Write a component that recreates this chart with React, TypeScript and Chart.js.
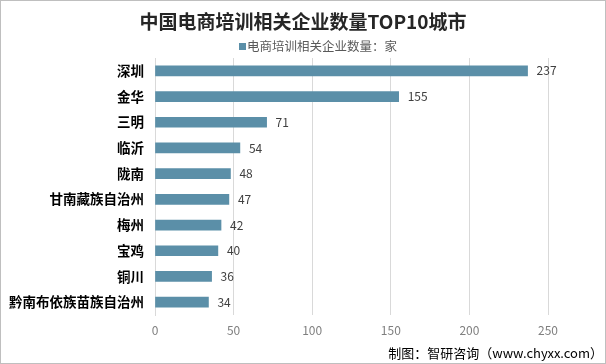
import React, { useEffect, useRef } from "react";
import { Chart, registerables } from "chart.js";

Chart.register(...registerables);

const cities = ["深圳", "金华", "三明", "临沂", "陇南", "甘南藏族自治州", "梅州", "宝鸡", "铜川", "黔南布依族苗族自治州"];
const counts = [237, 155, 71, 54, 48, 47, 42, 40, 36, 34];
const seriesName = "电商培训相关企业数量：家";
const titleText = "中国电商培训相关企业数量TOP10城市";
const footerText = "制图：智研咨询（www.chyxx.com）";
const xTicks = [0, 50, 100, 150, 200, 250];

const FONT = "'Noto Sans CJK SC', 'Noto Sans', sans-serif";
const BAR_COLOR = "#5b8fa8";

const decorations = {
  id: "decorations",
  afterDatasetsDraw(chart: any) {
    const ctx = chart.ctx;
    const meta = chart.getDatasetMeta(0);
    ctx.save();
    // value labels
    ctx.font = `12px ${FONT}`;
    ctx.fillStyle = "#404040";
    ctx.textAlign = "left";
    ctx.textBaseline = "middle";
    meta.data.forEach((bar: any, i: number) => {
      ctx.fillText(String(counts[i]), bar.x + 9, bar.y);
    });
    // title
    ctx.font = `bold 19px ${FONT}`;
    ctx.fillStyle = "#262626";
    ctx.textAlign = "center";
    ctx.fillText(titleText, 302, 21);
    // legend
    ctx.font = `12.5px ${FONT}`;
    ctx.fillStyle = BAR_COLOR;
    ctx.fillRect(238, 42, 7, 7);
    ctx.fillStyle = "#595959";
    ctx.textAlign = "left";
    ctx.fillText(seriesName, 246, 45.5);
    // footer
    ctx.font = `13px ${FONT}`;
    ctx.fillStyle = "#000000";
    ctx.textAlign = "right";
    ctx.fillText(footerText, 602, 352);
    ctx.restore();
  },
};

export default function App() {
  const ref = useRef<HTMLCanvasElement>(null);
  useEffect(() => {
    document.body.style.margin = "0";
    const chart = new Chart(ref.current!, {
      type: "bar",
      data: {
        labels: cities,
        datasets: [
          {
            label: seriesName,
            data: counts,
            backgroundColor: BAR_COLOR,
            borderWidth: 0,
            barThickness: 10,
          },
        ],
      },
      options: {
        indexAxis: "y",
        responsive: false,
        animation: false,
        layout: { padding: { left: 0, right: 57, top: 57, bottom: 18 } },
        plugins: {
          title: { display: false },
          legend: { display: false },
          tooltip: { enabled: false },
        },
        scales: {
          x: {
            min: 0,
            max: 250,
            afterBuildTicks(axis: any) {
              axis.ticks = xTicks.map((v) => ({ value: v }));
            },
            afterFit(axis: any) {
              axis.height = 30;
            },
            grid: { color: "#d9d9d9", drawTicks: false },
            border: { display: false },
            ticks: { color: "#7f7f7f", font: { family: FONT, size: 12 }, padding: 8 },
          },
          y: {
            afterFit(axis: any) {
              axis.width = 154;
            },
            grid: { display: false, drawTicks: false },
            border: { display: true, color: "#d9d9d9" },
            ticks: { color: "#000000", font: { family: FONT, size: 13.5, weight: "bold" }, padding: 11 },
          },
        },
      },
      plugins: [decorations],
    });
    return () => chart.destroy();
  }, []);
  return (
    <div style={{ position: "fixed", left: 0, top: 0, width: 606, height: 364, boxSizing: "border-box", border: "1px solid #bfbfbf", background: "#fff" }}>
      <canvas ref={ref} width={604} height={362} style={{ display: "block" }} />
    </div>
  );
}
